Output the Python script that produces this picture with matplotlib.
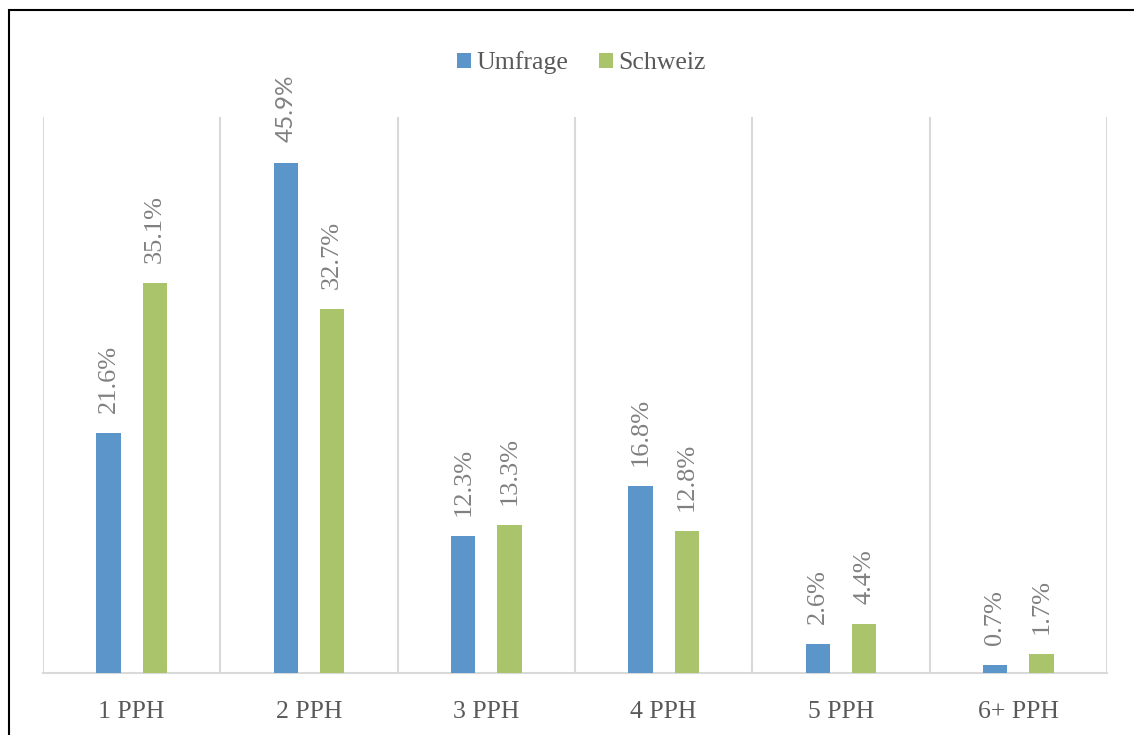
import numpy as np
import matplotlib.pyplot as plt
from matplotlib.patches import Rectangle

categories = ["1 PPH", "2 PPH", "3 PPH", "4 PPH", "5 PPH", "6+ PPH"]
umfrage = [21.6, 45.9, 12.3, 16.8, 2.6, 0.7]
schweiz = [35.1, 32.7, 13.3, 12.8, 4.4, 1.7]

plt.rcParams['font.family'] = ['Liberation Serif', 'DejaVu Serif']

W, H = 1134, 735
fig = plt.figure(figsize=(W / 100, H / 100), dpi=100)
ax = fig.add_axes([43 / W, (H - 673) / H, (1107 - 43) / W, (673 - 117) / H])

x = np.arange(len(categories))
off = 0.13
bw = 0.137
blue = "#5b95c9"
green = "#a9c46a"
ax.bar(x - off, umfrage, bw, color=blue, label="Umfrage", zorder=3)
ax.bar(x + off, schweiz, bw, color=green, label="Schweiz", zorder=3)

label_col = "#808080"
for xi, v in zip(x, umfrage):
    # the 45.9% label is set in a sans font in the original
    if v == 45.9:
        fam, fs = ['Lato', 'DejaVu Sans'], 17.5
    else:
        fam, fs = ['Liberation Serif'], 19
    ax.annotate(f"{v:.1f}%", (xi - off, v), xytext=(0, 14.5), textcoords="offset points",
                rotation=90, ha="center", va="bottom", fontsize=fs, color=label_col, family=fam)
for xi, v in zip(x, schweiz):
    ax.annotate(f"{v:.1f}%", (xi + off, v), xytext=(0, 14.5), textcoords="offset points",
                rotation=90, ha="center", va="bottom", fontsize=19, color=label_col)

ax.set_xlim(-0.5, len(categories) - 0.5)
ax.set_ylim(0, 50)
ax.set_yticks([])
ax.set_xticks(x)
ax.set_xticklabels(categories, fontsize=18.5, color="#595959")
ax.tick_params(axis="x", length=0, pad=20)

# vertical separators between categories
for b in np.arange(-0.5, len(categories), 1.0):
    ax.axvline(b, color="#d9d9d9", lw=1.5, zorder=1)

for s in ["top", "left", "right"]:
    ax.spines[s].set_visible(False)
ax.spines["bottom"].set_color("#d9d9d9")
ax.spines["bottom"].set_linewidth(1.5)

leg = fig.legend(loc="center", bbox_to_anchor=(581 / W, 1 - 63 / H), ncol=2, frameon=False,
                 fontsize=18.5, handlelength=0.55, handleheight=0.55, handletextpad=0.2,
                 columnspacing=1.2)
for t in leg.get_texts():
    t.set_color("#595959")

fig.patches.append(Rectangle((9 / W, -0.1), 1.2, 1 - 10 / H + 0.1, transform=fig.transFigure,
                             fill=False, edgecolor="black", lw=1.5))

fig.savefig("out.png", dpi=100)
